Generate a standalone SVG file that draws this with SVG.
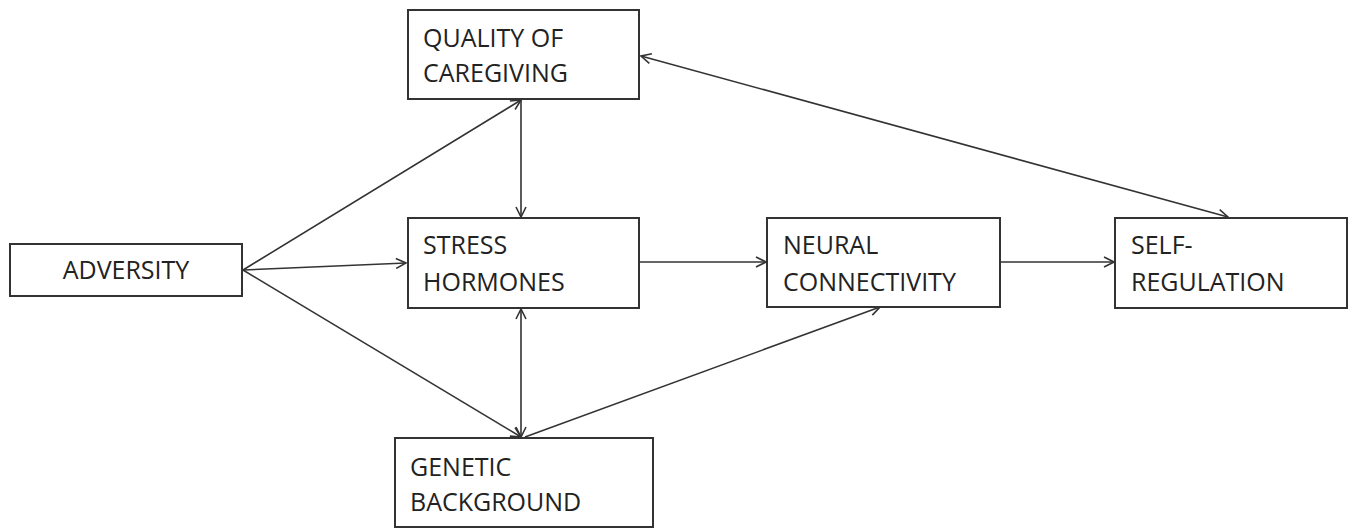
<svg xmlns="http://www.w3.org/2000/svg" width="1353" height="529" viewBox="0 0 1353 529">
<style>
.box{fill:#fff;stroke:#333;stroke-width:2}
.lbl{font-family:"Open Sans","Liberation Sans",sans-serif;font-size:25px;fill:#222}
.con{stroke:#333;stroke-width:1.6;fill:none}
</style>
<defs>
<marker id="ah" viewBox="0 0 12 12" refX="11" refY="6" markerWidth="12" markerHeight="12" markerUnits="userSpaceOnUse" orient="auto-start-reverse">
<path d="M1,1 L11,6 L1,11" fill="none" stroke="#333" stroke-width="1.6"/>
</marker>
</defs>
<rect width="1353" height="529" fill="#fff"/>
<g id="connectors">
<line class="con" x1="243" y1="270" x2="521" y2="100" marker-end="url(#ah)"/>
<line class="con" x1="243" y1="270" x2="406" y2="263" marker-end="url(#ah)"/>
<line class="con" x1="243" y1="270" x2="521" y2="437" marker-end="url(#ah)"/>
<line class="con" x1="521" y1="100" x2="521" y2="217" marker-end="url(#ah)"/>
<line class="con" x1="521" y1="309" x2="521" y2="437" marker-start="url(#ah)" marker-end="url(#ah)"/>
<line class="con" x1="525" y1="437" x2="880" y2="307" marker-end="url(#ah)"/>
<line class="con" x1="639" y1="262" x2="766" y2="262" marker-end="url(#ah)"/>
<line class="con" x1="1000" y1="262" x2="1114" y2="262" marker-end="url(#ah)"/>
<line class="con" x1="641" y1="56" x2="1228" y2="217" marker-start="url(#ah)" marker-end="url(#ah)"/>
</g>
<g id="quality">
<rect class="box" x="408" y="10" width="231" height="89"/>
<text class="lbl" x="423" y="47">QUALITY OF</text>
<text class="lbl" x="423" y="82">CAREGIVING</text>
</g>
<g id="adversity">
<rect class="box" x="10" y="244" width="232" height="52"/>
<text class="lbl" x="126" y="279" text-anchor="middle">ADVERSITY</text>
</g>
<g id="stress">
<rect class="box" x="408" y="218" width="231" height="90"/>
<text class="lbl" x="423" y="254">STRESS</text>
<text class="lbl" x="423" y="291">HORMONES</text>
</g>
<g id="neural">
<rect class="box" x="767" y="218" width="233" height="89"/>
<text class="lbl" x="783" y="254">NEURAL</text>
<text class="lbl" x="783" y="291">CONNECTIVITY</text>
</g>
<g id="self">
<rect class="box" x="1115" y="218" width="232" height="90"/>
<text class="lbl" x="1131" y="254">SELF-</text>
<text class="lbl" x="1131" y="291">REGULATION</text>
</g>
<g id="genetic">
<rect class="box" x="395" y="438" width="258" height="89"/>
<text class="lbl" x="410" y="476">GENETIC</text>
<text class="lbl" x="410" y="511">BACKGROUND</text>
</g>
</svg>
